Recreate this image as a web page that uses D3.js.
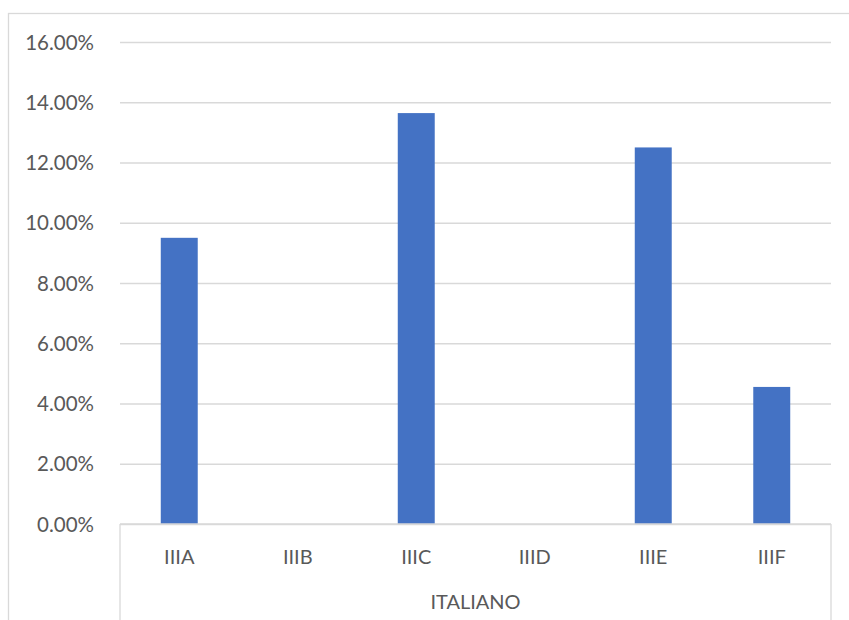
<!DOCTYPE html>
<html>
<head>
<meta charset="utf-8">
<script src="https://cdn.jsdelivr.net/npm/d3@7"></script>
<style>
  html, body { margin: 0; padding: 0; background: #ffffff; }
  svg { display: block; }
  text { font-family: Lato, "Liberation Sans", sans-serif; fill: #595959; }
</style>
</head>
<body>
<script>
// Share of students per class, Italian
const categories = ["IIIA", "IIIB", "IIIC", "IIID", "IIIE", "IIIF"];
const values = [0.095, 0, 0.1364, 0, 0.125, 0.0455];
const groupLabel = "ITALIANO";
const yTicks = [0, 0.02, 0.04, 0.06, 0.08, 0.10, 0.12, 0.14, 0.16];

const W = 849, H = 620;
const plot = { left: 120, right: 831, top: 42, bottom: 524 };

const svg = d3.select("body").append("svg")
  .attr("width", W).attr("height", H);

// chart area frame
svg.append("rect")
  .attr("x", 8.5).attr("y", 13.5)
  .attr("width", W + 20).attr("height", H + 20)
  .attr("fill", "#ffffff")
  .attr("stroke", "#d9d9d9").attr("stroke-width", 1.3);

const x = d3.scaleBand()
  .domain(categories)
  .range([plot.left, plot.right])
  .paddingInner(0.688).paddingOuter(0.344);

const y = d3.scaleLinear()
  .domain([0, 0.16])
  .range([plot.bottom, plot.top]);

// horizontal gridlines
const yAxis = d3.axisLeft(y)
  .tickValues(yTicks)
  .tickSize(-(plot.right - plot.left))
  .tickPadding(26)
  .tickFormat(d => (d * 100).toFixed(2) + "%");

const gy = svg.append("g")
  .attr("transform", `translate(${plot.left},0)`)
  .call(yAxis);
gy.select(".domain").remove();
gy.selectAll(".tick line")
  .attr("stroke", "#d9d9d9").attr("stroke-width", 1.3);
gy.selectAll(".tick text")
  .attr("font-size", 20.5)
  .attr("fill", "#595959")
  .attr("dy", "0.35em");

// bars
svg.append("g").selectAll("rect")
  .data(values)
  .join("rect")
  .attr("x", (d, i) => x(categories[i]))
  .attr("width", x.bandwidth())
  .attr("y", d => y(d))
  .attr("height", d => y(0) - y(d))
  .attr("fill", "#4472c4");

// category axis: baseline and the enclosing group box
const band = d3.scaleBand().domain([groupLabel]).range([plot.left, plot.right]);
const axisG = svg.append("g");
axisG.append("line")
  .attr("x1", plot.left).attr("x2", plot.right)
  .attr("y1", y(0)).attr("y2", y(0))
  .attr("stroke", "#d9d9d9").attr("stroke-width", 1.3);
[plot.left, plot.right].forEach(px => {
  axisG.append("line")
    .attr("x1", px).attr("x2", px)
    .attr("y1", y(0)).attr("y2", H + 5)
    .attr("stroke", "#d9d9d9").attr("stroke-width", 1.3);
});

axisG.selectAll("text.cat")
  .data(categories)
  .join("text")
  .attr("class", "cat")
  .attr("x", d => x(d) + x.bandwidth() / 2)
  .attr("y", 557)
  .attr("dy", "0.35em")
  .attr("text-anchor", "middle")
  .attr("font-size", 20)
  .text(d => d);

axisG.append("text")
  .attr("x", band(groupLabel) + band.bandwidth() / 2)
  .attr("y", 602)
  .attr("dy", "0.35em")
  .attr("text-anchor", "middle")
  .attr("font-size", 20)
  .text(groupLabel);
</script>
</body>
</html>
